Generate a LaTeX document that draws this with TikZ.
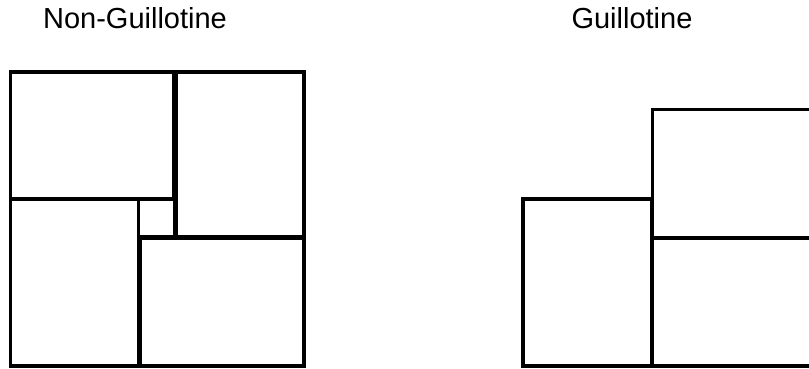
\documentclass[tikz,border=0pt]{standalone}
\usepackage{fontspec}
\setmainfont{Liberation Sans}
\begin{document}
\begin{tikzpicture}[x=0.5pt,y=-0.5pt,
  piece/.style={draw=black,line width=1.6pt,fill=none},
  title/.style={anchor=base,font=\fontsize{14.5pt}{17pt}\selectfont,inner sep=0pt}]
\useasboundingbox (0,0) rectangle (809,369);
\clip (0,0) rectangle (809,369);
% Non-Guillotine
\node[title] (t1) at (135,29) {Non-Guillotine};
\draw[piece] (10.5,72) rectangle (174,198.5);
\draw[piece] (176,72) rectangle (304,236.5);
\draw[piece] (10.5,199.5) rectangle (138.5,366);
\draw[piece] (140,238) rectangle (304,366);
\draw[piece] (138.5,199.5) rectangle (174.5,236.5);
% Guillotine
\node[title] (t2) at (632,29) {Guillotine};
\draw[piece] (523,199) rectangle (652,366);
\draw[piece] (652.5,109.5) rectangle (830,238);
\draw[piece] (652.5,238) rectangle (830,366);
\end{tikzpicture}
\end{document}
